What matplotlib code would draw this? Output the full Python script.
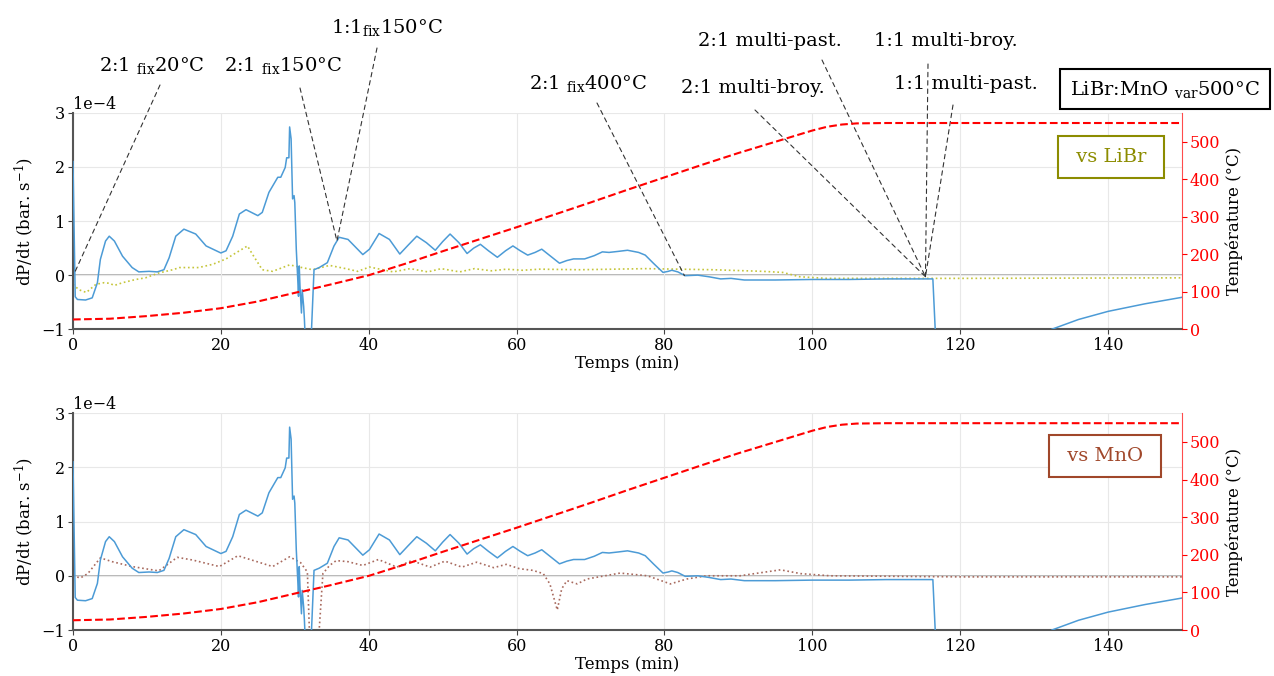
import numpy as np
import matplotlib
matplotlib.use('Agg')
import matplotlib.pyplot as plt

plt.rcParams['font.family'] = ['DejaVu Serif']
plt.rcParams['mathtext.fontset'] = 'dejavuserif'

##### Data (dP/dt in units of 1e-4 bar/s, time in min)

# reference run (blue, same in both panels)
t_ref = [0, 0.3, 0.6, 1.7, 2.6, 3.3, 3.7, 4.4, 4.9, 5.6, 6.7, 8, 8.9, 10.3, 11.4, 12.3,
         13, 13.9, 15, 16.6, 18, 20, 20.7, 21.6, 22.5, 23.4, 25, 25.6, 26.5, 27.7, 28.1,
         28.7, 28.9, 29.2, 29.3, 29.5, 29.7, 29.9, 30.0, 30.2, 30.4, 30.5, 30.6, 30.7,
         30.9, 31.0, 31.2, 31.3, 31.45, np.nan, 32.2, 32.6, 33.3, 34.4, 35.3, 36, 37.2,
         39.2, 40.1, 41.4, 42.8, 44.2, 45.3, 46.5, 47.8, 49, 50, 51, 52.2, 53.3, 54.2,
         55.1, 56.2, 57.4, 58.5, 59.5, 60.5, 61.5, 62.5, 63.4, 64.6, 65.8, 66.8, 67.7,
         69.2, 70.5, 71.6, 72.5, 73.8, 75, 76.5, 77.4, 78.5, 79.8, 80.5, 81, 81.8, 82.8,
         84.5, 86, 87.6, 89, 90.8, 95, 100, 105, 110, 115, 116.3, 117.3, np.nan, 132.4,
         136, 140, 145, 150]
v_ref = [2.1, -0.4, -0.45, -0.46, -0.42, -0.14, 0.29, 0.63, 0.72, 0.63, 0.35, 0.14, 0.06,
         0.07, 0.06, 0.1, 0.32, 0.72, 0.85, 0.76, 0.54, 0.41, 0.45, 0.72, 1.13, 1.21, 1.1,
         1.16, 1.53, 1.81, 1.81, 1.99, 2.17, 2.17, 2.74, 2.52, 1.41, 1.47, 1.34, 0.48,
         -0.08, -0.39, 0.17, -0.2, -0.7, -0.27, -0.58, -0.82, -1.3, np.nan, -1.2, 0.1,
         0.14, 0.23, 0.54, 0.7, 0.66, 0.38, 0.48, 0.77, 0.66, 0.39, 0.55, 0.72, 0.6, 0.46,
         0.62, 0.76, 0.6, 0.4, 0.5, 0.57, 0.45, 0.33, 0.45, 0.54, 0.45, 0.37, 0.42, 0.48,
         0.35, 0.22, 0.27, 0.3, 0.3, 0.36, 0.43, 0.42, 0.44, 0.46, 0.42, 0.37, 0.22, 0.05,
         0.07, 0.09, 0.06, -0.01, 0.0, -0.03, -0.07, -0.06, -0.09, -0.09, -0.08, -0.08,
         -0.07, -0.07, -0.07, -3.0, np.nan, -1.0, -0.82, -0.67, -0.53, -0.41]

# vs LiBr (olive dotted)
t_libr = [0, 0.8, 1.8, 3.1, 4.2, 4.9, 5.6, 6.7, 8.5, 9.8, 11.6, 13.5, 14.4, 17, 18.9, 20.7,
          22.5, 23.6, 24.3, 25.6, 27, 29.3, 30.6, 32.4, 34.7, 36.9, 38.5, 40.1, 41.9, 43.3,
          45.6, 48, 49.8, 52.3, 54.3, 56.6, 58.6, 60.8, 63.1, 68.5, 77.5, 86.5, 93.3, 96,
          98.3, 101.9, 120, 150]
v_libr = [-0.17, -0.27, -0.32, -0.17, -0.14, -0.15, -0.19, -0.14, -0.08, -0.05, 0.04, 0.1,
          0.14, 0.14, 0.2, 0.3, 0.45, 0.54, 0.38, 0.1, 0.07, 0.19, 0.15, 0.1, 0.18, 0.12,
          0.07, 0.15, 0.1, 0.06, 0.12, 0.06, 0.12, 0.06, 0.12, 0.08, 0.11, 0.09, 0.11, 0.1,
          0.12, 0.1, 0.07, 0.05, -0.03, -0.06, -0.06, -0.05]

# vs MnO (brown dotted)
t_mno = [0, 1, 2, 3.7, 5.3, 8, 11.6, 13, 14.1, 16.2, 19.8, 22.3, 27, 29.3, 30.8, 31.7,
         32.1, np.nan, 33.2, 33.8, 34.7, 35.6, 37.2, 39.2, 41.3, 43.8, 45.8, 48.3, 50.3,
         52.6, 54.6, 56.9, 58.6, 60.4, 62.2, 63.6, 64.5, 65.5, 66.1, 66.8, 68.2, 69.5, 74,
         77.7, 80.8, 83, 85.7, 90.2, 95.7, 98.4, 102.4, 120, 150]
v_mno = [0.0, -0.04, 0.04, 0.33, 0.26, 0.17, 0.09, 0.23, 0.34, 0.29, 0.17, 0.37, 0.17, 0.35,
         0.24, 0.07, -1.5, np.nan, -1.2, 0.04, 0.19, 0.28, 0.26, 0.19, 0.3, 0.16, 0.28, 0.16,
         0.27, 0.16, 0.25, 0.15, 0.21, 0.13, 0.1, 0.04, -0.15, -0.63, -0.24, -0.09, -0.15,
         -0.06, 0.05, 0.0, -0.15, -0.06, 0.0, 0.0, 0.11, 0.04, 0.0, -0.02, -0.02]

# temperature (°C)
t_temp = [0, 5, 10, 15, 20, 25, 30, 35, 40, 45, 50, 55, 60, 65, 70, 75, 80, 85, 90, 95, 98,
          100, 102, 104, 106, 110, 150]
temp = [26, 28, 35, 44, 56, 74, 97, 120, 144, 175, 208, 240, 272, 305, 338, 372, 405, 438,
        470, 500, 518, 530, 540, 546, 549, 550, 550]

# annotations
labels = ["2:1 $_{\\mathrm{fix}}$20°C", "2:1 $_{\\mathrm{fix}}$150°C", "1:1$_{\\mathrm{fix}}$150°C",
          "2:1 $_{\\mathrm{fix}}$400°C", "2:1 multi-broy.", "2:1 multi-past.",
          "1:1 multi-broy.", "1:1 multi-past."]
label_px = [(152, 65), (283, 65), (387, 27), (588, 83), (753, 88), (770, 41), (946, 41), (966, 84)]
start_px = [(160, 85), (300, 88), (377, 48), (597, 103), (755, 110), (822, 60), (928, 64), (953, 105)]
target_t = [0.2, 35.7, 35.7, 82.7, 115.3, 115.3, 115.3, 115.3]
target_v = [0.04, 0.63, 0.63, -0.01, -0.03, -0.03, -0.03, -0.03]

W, H = 1274, 676
fig = plt.figure(figsize=(W / 100, H / 100), dpi=100)

ax1 = fig.add_axes([0.0573, 0.513, 0.8705, 0.320])
ax3 = fig.add_axes([0.0573, 0.068, 0.8705, 0.321])

def ref_panel(ax, t_cmp, v_cmp, cmp_color, box_text, box_color, box_xy):
    ax.grid(color='#e8e8e8', lw=0.8)
    ax.axhline(0, color='#aaaaaa', lw=1.2, zorder=1)
    ax.plot(t_ref, np.array(v_ref) * 1e-4, color='#4c9bd6', lw=1.1, zorder=3)
    ax.plot(t_cmp, np.array(v_cmp) * 1e-4, color=cmp_color, lw=1.2, ls=':', zorder=2)
    ax.set_xlim(0, 150)
    ax.set_ylim(-1e-4, 3e-4)
    ax.set_yticks([-1e-4, 0, 1e-4, 2e-4, 3e-4])
    ax.ticklabel_format(axis='y', style='sci', scilimits=(0, 0), useMathText=False)
    ax.tick_params(labelsize=11.5, color='#444444', pad=2)
    ax.yaxis.get_offset_text().set_fontsize(11.5)
    ax.set_xlabel('Temps (min)', fontsize=12, labelpad=1)
    ax.set_ylabel('dP/dt (bar. s$^{-1}$)', fontsize=12, labelpad=4)
    for s in ['top', 'right']:
        ax.spines[s].set_visible(False)
    for s in ['left', 'bottom']:
        ax.spines[s].set_color('#555555')
        ax.spines[s].set_linewidth(1.5)

    ax2 = ax.twinx()
    ax2.plot(t_temp, temp, color='red', ls='--', lw=1.5)
    ax2.set_ylim(0, 577)
    ax2.set_yticks([0, 100, 200, 300, 400, 500])
    ax2.tick_params(labelsize=11.5, colors='red', pad=2)
    ax2.set_ylabel('Température (°C)', fontsize=12, labelpad=4)
    for s in ['top', 'left', 'bottom']:
        ax2.spines[s].set_visible(False)
    ax2.spines['right'].set_color('red')
    ax2.spines['right'].set_alpha(0.7)
    ax2.text(box_xy[0], box_xy[1], ' ' + box_text + ' ', transform=fig.transFigure,
             ha='center', va='center', fontsize=14, color=box_color,
             bbox=dict(boxstyle='square,pad=0.6', fc='white', ec=box_color, lw=1.5))
    return ax2

ref_panel(ax1, t_libr, v_libr, '#c5c53a', 'vs LiBr', '#8c8c00', (1111 / W, 1 - 157 / H))
ref_panel(ax3, t_mno, v_mno, '#a86a5e', 'vs MnO', '#a0472a', (1105 / W, 1 - 456 / H))

for lab, lp, sp, tt, vv in zip(labels, label_px, start_px, target_t, target_v):
    fig.text(lp[0] / W, 1 - lp[1] / H, lab, ha='center', va='center', fontsize=14)
    ax1.annotate('', xy=(tt, vv * 1e-4), xycoords='data',
                 xytext=(sp[0], H - sp[1]), textcoords='figure pixels',
                 arrowprops=dict(arrowstyle='-', linestyle=(0, (4, 3.5)), lw=0.8,
                                 color='#333333', shrinkA=0, shrinkB=0),
                 annotation_clip=False)

fig.text(1165 / W, 1 - 89 / H, 'LiBr:MnO $_{\\mathrm{var}}$500°C', ha='center', va='center',
         fontsize=14, bbox=dict(boxstyle='square,pad=0.5', fc='white', ec='black', lw=1.5))

fig.savefig('out.png', dpi=100)
